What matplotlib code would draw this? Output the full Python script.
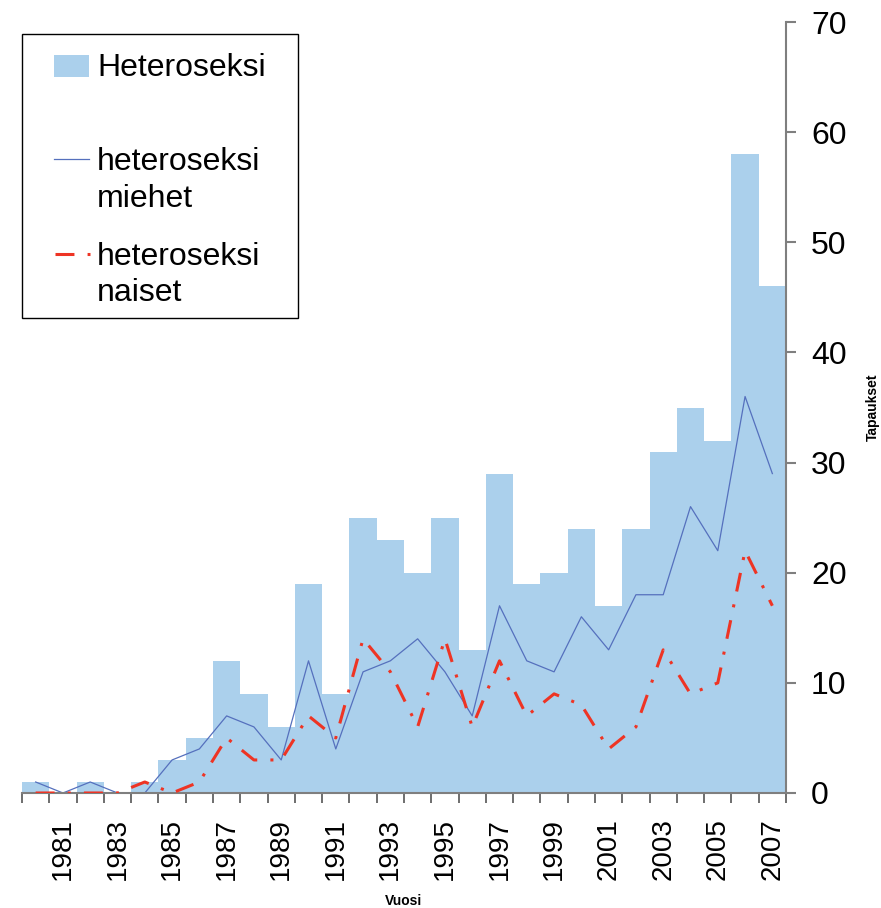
import numpy as np
import matplotlib
matplotlib.use("Agg")
import matplotlib.pyplot as plt
from matplotlib.patches import Rectangle
from matplotlib.lines import Line2D

plt.rcParams['font.family'] = ['Liberation Sans', 'DejaVu Sans']

# data
years = list(range(1980, 2008))
total = [1, 0, 1, 0, 1, 3, 5, 12, 9, 6, 19, 9, 25, 23, 20, 25, 13, 29, 19, 20,
         24, 17, 24, 31, 35, 32, 58, 46]
men = [1, 0, 1, 0, 0, 3, 4, 7, 6, 3, 12, 4, 11, 12, 14, 11, 7, 17, 12, 11,
       16, 13, 18, 18, 26, 22, 36, 29]
women = [0, 0, 0, 0, 1, 0, 1, 5, 3, 3, 7, 5, 14, 11, 6, 14, 6, 12, 7, 9,
         8, 4, 6, 13, 9, 10, 22, 17]
yticks = [0, 10, 20, 30, 40, 50, 60, 70]

bar_col = '#abd0ec'
men_col = '#5570bd'
women_col = '#ee3424'
red_dash = (0, (6.2, 4.3, 1, 4.3))

W, H = 881, 908
fig = plt.figure(figsize=(W / 100, H / 100), dpi=100)
ax = fig.add_axes([22 / W, 1 - 793 / H, (786 - 22) / W, (793 - 22) / H])

x = np.arange(len(years))
ax.bar(x, total, width=1.0, color=bar_col, zorder=1)
ax.plot(x, men, color=men_col, lw=0.9, zorder=2)
ax.plot(x, women, color=women_col, lw=2.2, linestyle=red_dash, zorder=3)

ax.set_xlim(-0.5, len(years) - 0.5)
ax.set_ylim(0, 70)

for s in ['top', 'left']:
    ax.spines[s].set_visible(False)
for s in ['bottom', 'right']:
    ax.spines[s].set_color('#7f7f7f')
    ax.spines[s].set_linewidth(1.5)

ax.yaxis.tick_right()
ax.yaxis.set_label_position('right')
ax.set_yticks(yticks)
ax.tick_params(axis='y', which='major', length=7, width=1.5, color='#7f7f7f',
               labelsize=23, pad=11)
ax.set_ylabel('Tapaukset', fontsize=10, fontweight='bold', labelpad=14)

# year labels at bar centres, ticks at bar edges
ax.set_xticks(x)
ax.set_xticklabels([str(y) if y % 2 == 1 else '' for y in years], rotation=90)
ax.set_xticks(np.arange(-0.5, len(years), 1.0), minor=True)
ax.tick_params(axis='x', which='major', length=0, labelsize=20, pad=18)
ax.tick_params(axis='x', which='minor', length=7, width=1.2, color='#555555')
ax.set_xlabel('Vuosi', fontsize=10, fontweight='bold', labelpad=10)


# legend drawn by hand so the handles sit on the first text line
def fx(px):
    return px / W


def fy(py):
    return 1 - py / H


fig.add_artist(Rectangle((fx(22), fy(318)), (298 - 22) / W, (318 - 34) / H,
                         transform=fig.transFigure, facecolor='white',
                         edgecolor='black', lw=1, zorder=5))
fig.add_artist(Rectangle((fx(54), fy(77)), (89 - 54) / W, (77 - 55) / H,
                         transform=fig.transFigure, facecolor=bar_col,
                         edgecolor='none', zorder=6))
fig.add_artist(Line2D([fx(54), fx(89)], [fy(159), fy(159)], transform=fig.transFigure,
                      color=men_col, lw=0.9, zorder=6))
fig.add_artist(Line2D([fx(55), fx(90)], [fy(254), fy(254)], transform=fig.transFigure,
                      color=women_col, lw=2.2, linestyle=red_dash, zorder=6))

leg_lines = [('Heteroseksi', 76), ('heteroseksi', 170), ('miehet', 207),
             ('heteroseksi', 265), ('naiset', 301)]
for txt, base in leg_lines:
    fig.text(fx(97), fy(base), txt, fontsize=23, va='baseline', ha='left', zorder=7)

fig.savefig('out.png', dpi=100)
